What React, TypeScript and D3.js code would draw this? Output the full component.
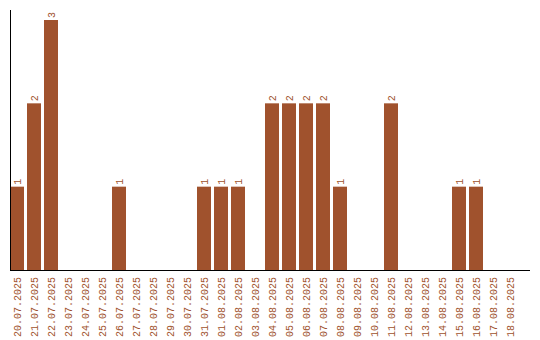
import React from "react";
import * as d3 from "d3";

const dates = [
  "20.07.2025","21.07.2025","22.07.2025","23.07.2025","24.07.2025","25.07.2025",
  "26.07.2025","27.07.2025","28.07.2025","29.07.2025","30.07.2025","31.07.2025",
  "01.08.2025","02.08.2025","03.08.2025","04.08.2025","05.08.2025","06.08.2025",
  "07.08.2025","08.08.2025","09.08.2025","10.08.2025","11.08.2025","12.08.2025",
  "13.08.2025","14.08.2025","15.08.2025","16.08.2025","17.08.2025","18.08.2025",
];
const counts = [1,2,3,0,0,0,1,0,0,0,0,1,1,1,0,2,2,2,2,1,0,0,2,0,0,0,1,1,0,0];

const COLOR = "#a0522d";

export default function App() {
  const W = 540, H = 340;
  const x = d3.scaleBand<string>().domain(dates).range([10, 520])
    .paddingInner(3 / 17).paddingOuter(1.5 / 17).align(0);
  const y = d3.scaleLinear().domain([0, 3]).range([270, 20]);
  const font = "'Liberation Mono', monospace";
  return (
    <svg width={W} height={H} style={{ position: "absolute", left: 0, top: 0 }}>
      {dates.map((d, i) => counts[i] > 0 && (
        <g key={d}>
          <rect x={x(d)} y={y(counts[i])} width={x.bandwidth()} height={y(0) - y(counts[i])} fill={COLOR} />
          <text transform={`translate(${(x(d) as number) + x.bandwidth() / 2 + 3.5},${y(counts[i]) - 2}) rotate(-90)`}
            fontFamily={font} fontSize={10} fill={COLOR}>{counts[i]}</text>
        </g>
      ))}
      <line x1={10.5} x2={10.5} y1={10} y2={270} stroke="#000" />
      <line x1={10} x2={530} y1={270.5} y2={270.5} stroke="#000" />
      {dates.map((d) => (
        <text key={d} transform={`translate(${(x(d) as number) + x.bandwidth() / 2 + 3.5},277) rotate(-90)`}
          textAnchor="end" fontFamily={font} fontSize={10} fill={COLOR}>{d}</text>
      ))}
    </svg>
  );
}
